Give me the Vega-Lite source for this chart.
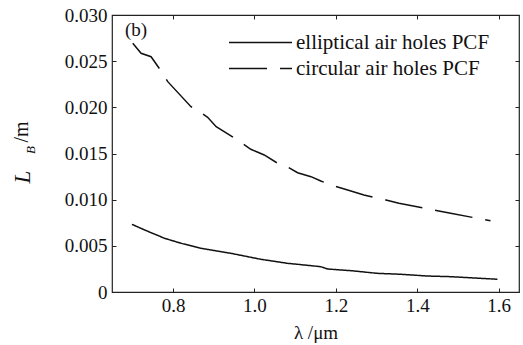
{
  "$schema": "https://vega.github.io/schema/vega-lite/v6.json",
  "autosize": {"type": "none"},
  "width": 407,
  "height": 277,
  "padding": {"left": 112, "top": 15, "right": 4, "bottom": 53},
  "config": {
    "view": {"stroke": "#222", "strokeWidth": 1.2},
    "font": "Liberation Serif",
    "axis": {
      "grid": false,
      "domain": false,
      "tickSize": -4,
      "tickColor": "#222",
      "tickWidth": 1,
      "labelFont": "Liberation Serif",
      "labelFontSize": 19,
      "labelColor": "#111",
      "titleFont": "Liberation Serif",
      "titleFontSize": 19,
      "titleFontWeight": "normal",
      "titleColor": "#111"
    }
  },
  "datasets": {
    "curves": [
      {"series": "elliptical air holes PCF", "lambda": 0.699, "LB": 0.00733},
      {"series": "elliptical air holes PCF", "lambda": 0.730, "LB": 0.00672},
      {"series": "elliptical air holes PCF", "lambda": 0.779, "LB": 0.00582},
      {"series": "elliptical air holes PCF", "lambda": 0.820, "LB": 0.00527},
      {"series": "elliptical air holes PCF", "lambda": 0.869, "LB": 0.00473},
      {"series": "elliptical air holes PCF", "lambda": 0.942, "LB": 0.00419},
      {"series": "elliptical air holes PCF", "lambda": 1.016, "LB": 0.00354},
      {"series": "elliptical air holes PCF", "lambda": 1.081, "LB": 0.00311},
      {"series": "elliptical air holes PCF", "lambda": 1.106, "LB": 0.00300},
      {"series": "elliptical air holes PCF", "lambda": 1.163, "LB": 0.00274},
      {"series": "elliptical air holes PCF", "lambda": 1.180, "LB": 0.00249},
      {"series": "elliptical air holes PCF", "lambda": 1.237, "LB": 0.00231},
      {"series": "elliptical air holes PCF", "lambda": 1.302, "LB": 0.00202},
      {"series": "elliptical air holes PCF", "lambda": 1.360, "LB": 0.00192},
      {"series": "elliptical air holes PCF", "lambda": 1.425, "LB": 0.00173},
      {"series": "elliptical air holes PCF", "lambda": 1.482, "LB": 0.00166},
      {"series": "elliptical air holes PCF", "lambda": 1.556, "LB": 0.00148},
      {"series": "elliptical air holes PCF", "lambda": 1.597, "LB": 0.00138},
      {"series": "circular air holes PCF", "lambda": 0.701, "LB": 0.02694},
      {"series": "circular air holes PCF", "lambda": 0.7215, "LB": 0.02585},
      {"series": "circular air holes PCF", "lambda": 0.746, "LB": 0.02548},
      {"series": "circular air holes PCF", "lambda": 0.769, "LB": 0.02404},
      {"series": "circular air holes PCF", "lambda": 0.787, "LB": 0.02278},
      {"series": "circular air holes PCF", "lambda": 0.844, "LB": 0.02007},
      {"series": "circular air holes PCF", "lambda": 0.856, "LB": 0.01982},
      {"series": "circular air holes PCF", "lambda": 0.885, "LB": 0.01892},
      {"series": "circular air holes PCF", "lambda": 0.906, "LB": 0.01790},
      {"series": "circular air holes PCF", "lambda": 0.959, "LB": 0.01646},
      {"series": "circular air holes PCF", "lambda": 0.991, "LB": 0.01546},
      {"series": "circular air holes PCF", "lambda": 1.024, "LB": 0.01484},
      {"series": "circular air holes PCF", "lambda": 1.057, "LB": 0.01394},
      {"series": "circular air holes PCF", "lambda": 1.077, "LB": 0.01365},
      {"series": "circular air holes PCF", "lambda": 1.106, "LB": 0.01292},
      {"series": "circular air holes PCF", "lambda": 1.139, "LB": 0.01249},
      {"series": "circular air holes PCF", "lambda": 1.163, "LB": 0.01202},
      {"series": "circular air holes PCF", "lambda": 1.196, "LB": 0.01148},
      {"series": "circular air holes PCF", "lambda": 1.229, "LB": 0.01105},
      {"series": "circular air holes PCF", "lambda": 1.269, "LB": 0.01051},
      {"series": "circular air holes PCF", "lambda": 1.302, "LB": 0.01015},
      {"series": "circular air holes PCF", "lambda": 1.323, "LB": 0.00996},
      {"series": "circular air holes PCF", "lambda": 1.355, "LB": 0.00961},
      {"series": "circular air holes PCF", "lambda": 1.453, "LB": 0.00877},
      {"series": "circular air holes PCF", "lambda": 1.482, "LB": 0.00852},
      {"series": "circular air holes PCF", "lambda": 1.580, "LB": 0.00772}
    ],
    "labels": [
      {"part": "panel", "text": "(b)", "lambda": 0.709, "LB": 0.02838}
    ],
    "ytitle_L": [{"text": "L", "lambda": 0.432, "LB": 0.01245}],
    "ytitle_B": [{"text": "B", "lambda": 0.4514, "LB": 0.01538}],
    "ytitle_m": [{"text": "/m", "lambda": 0.4296, "LB": 0.01733}]
  },
  "resolve": {"axis": {"x": "independent", "y": "independent"}},
  "layer": [
    {
      "data": {"name": "curves"},
      "mark": {"type": "line", "stroke": "#111", "strokeWidth": 1.5},
      "encoding": {
        "x": {
          "field": "lambda", "type": "quantitative",
          "scale": {"domain": [0.65, 1.65], "nice": false, "zero": false},
          "axis": {"values": [0.8, 1.0, 1.2, 1.4, 1.6], "format": ".1f", "title": "λ /μm", "labelPadding": 8, "titlePadding": 8}
        },
        "y": {
          "field": "LB", "type": "quantitative",
          "scale": {"domain": [0, 0.03], "nice": false, "zero": true},
          "axis": {"values": [0, 0.005, 0.01, 0.015, 0.02, 0.025, 0.03], "labelExpr": "datum.value === 0 ? '0' : format(datum.value, '.3f')", "title": null, "labelPadding": 9}
        },
        "strokeDash": {
          "field": "series", "type": "nominal",
          "scale": {"domain": ["elliptical air holes PCF", "circular air holes PCF"], "range": [[1, 0], [38, 13]]},
          "legend": {
            "title": null,
            "orient": "none",
            "legendX": 137,
            "legendY": 16,
            "padding": 0,
            "symbolType": "M-3,0H3",
            "symbolSize": 441,
            "symbolStrokeWidth": 1.3,
            "symbolStrokeColor": "#111",
            "labelFont": "Liberation Serif",
            "labelFontSize": 21,
            "labelColor": "#111",
            "labelOffset": 24,
            "labelLimit": 0,
            "rowPadding": 4
          }
        }
      }
    },
    {
      "data": {"name": "labels"},
      "mark": {"type": "text", "fontSize": 19, "font": "Liberation Serif", "fill": "#111", "align": "center", "baseline": "middle"},
      "encoding": {
        "text": {"field": "text"},
        "x": {"field": "lambda", "type": "quantitative", "axis": {"orient": "top", "values": [0.8, 1.0, 1.2, 1.4, 1.6], "labels": false, "title": null}},
        "y": {"field": "LB", "type": "quantitative", "axis": {"orient": "right", "values": [0, 0.005, 0.01, 0.015, 0.02, 0.025, 0.03], "labels": false, "title": null}}
      }
    },
    {
      "data": {"name": "ytitle_L"},
      "mark": {"type": "text", "fontSize": 23, "font": "Liberation Serif", "fontStyle": "italic", "fill": "#111", "align": "center", "baseline": "middle", "angle": 270},
      "encoding": {
        "text": {"field": "text"},
        "x": {"field": "lambda", "type": "quantitative", "axis": null},
        "y": {"field": "LB", "type": "quantitative", "axis": null}
      }
    },
    {
      "data": {"name": "ytitle_B"},
      "mark": {"type": "text", "fontSize": 13, "font": "Liberation Serif", "fontStyle": "italic", "fill": "#111", "align": "center", "baseline": "middle", "angle": 270},
      "encoding": {
        "text": {"field": "text"},
        "x": {"field": "lambda", "type": "quantitative", "axis": null},
        "y": {"field": "LB", "type": "quantitative", "axis": null}
      }
    },
    {
      "data": {"name": "ytitle_m"},
      "mark": {"type": "text", "fontSize": 20, "font": "Liberation Serif", "fill": "#111", "align": "center", "baseline": "middle", "angle": 270},
      "encoding": {
        "text": {"field": "text"},
        "x": {"field": "lambda", "type": "quantitative", "axis": null},
        "y": {"field": "LB", "type": "quantitative", "axis": null}
      }
    }
  ]
}
